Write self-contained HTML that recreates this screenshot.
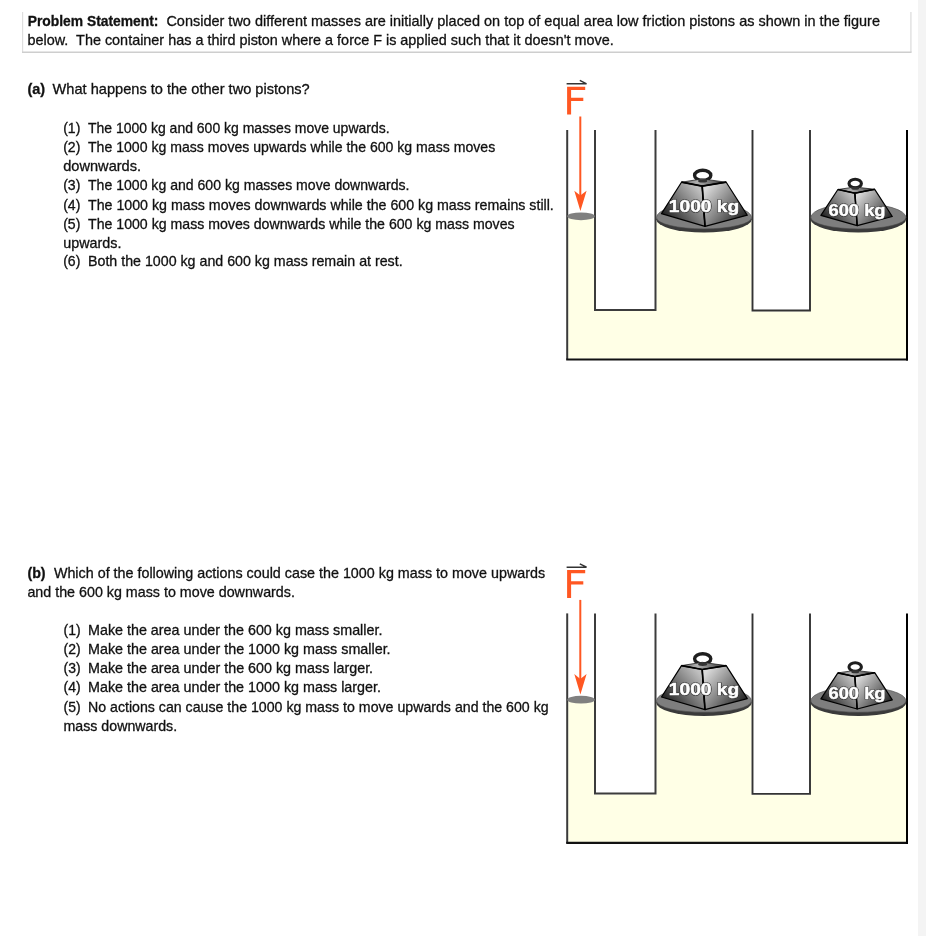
<!DOCTYPE html>
<html><head><meta charset="utf-8"><style>
html,body{margin:0;padding:0;background:#fff;}
body{width:926px;height:936px;overflow:hidden;position:relative;}
svg{position:absolute;left:0;top:0;will-change:transform;}
.t text{font-family:"Liberation Sans",sans-serif;font-size:14.4px;fill:#111;stroke:#111;stroke-width:0.3px;white-space:pre;}
</style></head><body>
<svg width="926" height="936" viewBox="0 0 926 936">
<rect x="918" y="0" width="8" height="936" fill="#f4f4f4"/>
<line x1="22.6" y1="12" x2="22.6" y2="52" stroke="#dedede" stroke-width="1.2"/>
<line x1="910.9" y1="12" x2="910.9" y2="52" stroke="#e2e2e2" stroke-width="1.5"/>
<line x1="22" y1="52.3" x2="911.6" y2="52.3" stroke="#cecece" stroke-width="1.4"/>
<g class="t">
<text x="27.70" y="25.60" textLength="130.80" lengthAdjust="spacingAndGlyphs" font-weight="bold">Problem Statement:</text>
<text x="166.40" y="25.60" textLength="713.60" lengthAdjust="spacingAndGlyphs">Consider two different masses are initially placed on top of equal area low friction pistons as shown in the figure</text>
<text x="27.50" y="44.60" textLength="586.20" lengthAdjust="spacingAndGlyphs">below.  The container has a third piston where a force F is applied such that it doesn&#39;t move.</text>
<text x="27.50" y="93.70" textLength="17.70" lengthAdjust="spacingAndGlyphs" font-weight="bold">(a)</text>
<text x="52.60" y="93.70" textLength="257.10" lengthAdjust="spacingAndGlyphs">What happens to the other two pistons?</text>
<text x="63.20" y="132.90" textLength="17.20" lengthAdjust="spacingAndGlyphs">(1)</text>
<text x="88.00" y="132.90" textLength="301.60" lengthAdjust="spacingAndGlyphs">The 1000 kg and 600 kg masses move upwards.</text>
<text x="63.20" y="151.80" textLength="17.20" lengthAdjust="spacingAndGlyphs">(2)</text>
<text x="88.00" y="151.80" textLength="407.20" lengthAdjust="spacingAndGlyphs">The 1000 kg mass moves upwards while the 600 kg mass moves</text>
<text x="63.20" y="170.60" textLength="77.90" lengthAdjust="spacingAndGlyphs">downwards.</text>
<text x="63.20" y="189.70" textLength="17.20" lengthAdjust="spacingAndGlyphs">(3)</text>
<text x="88.00" y="189.70" textLength="321.50" lengthAdjust="spacingAndGlyphs">The 1000 kg and 600 kg masses move downwards.</text>
<text x="63.20" y="209.50" textLength="17.20" lengthAdjust="spacingAndGlyphs">(4)</text>
<text x="88.00" y="209.50" textLength="465.80" lengthAdjust="spacingAndGlyphs">The 1000 kg mass moves downwards while the 600 kg mass remains still.</text>
<text x="63.20" y="228.70" textLength="17.20" lengthAdjust="spacingAndGlyphs">(5)</text>
<text x="88.00" y="228.70" textLength="426.60" lengthAdjust="spacingAndGlyphs">The 1000 kg mass moves downwards while the 600 kg mass moves</text>
<text x="63.20" y="247.50" textLength="58.20" lengthAdjust="spacingAndGlyphs">upwards.</text>
<text x="63.20" y="266.30" textLength="17.20" lengthAdjust="spacingAndGlyphs">(6)</text>
<text x="88.00" y="266.30" textLength="314.60" lengthAdjust="spacingAndGlyphs">Both the 1000 kg and 600 kg mass remain at rest.</text>
<text x="27.40" y="578.30" textLength="18.20" lengthAdjust="spacingAndGlyphs" font-weight="bold">(b)</text>
<text x="53.90" y="578.30" textLength="491.20" lengthAdjust="spacingAndGlyphs">Which of the following actions could case the 1000 kg mass to move upwards</text>
<text x="27.40" y="596.50" textLength="267.50" lengthAdjust="spacingAndGlyphs">and the 600 kg mass to move downwards.</text>
<text x="63.50" y="635.40" textLength="17.10" lengthAdjust="spacingAndGlyphs">(1)</text>
<text x="88.00" y="635.40" textLength="294.40" lengthAdjust="spacingAndGlyphs">Make the area under the 600 kg mass smaller.</text>
<text x="63.50" y="654.20" textLength="17.10" lengthAdjust="spacingAndGlyphs">(2)</text>
<text x="88.00" y="654.20" textLength="302.60" lengthAdjust="spacingAndGlyphs">Make the area under the 1000 kg mass smaller.</text>
<text x="63.50" y="673.10" textLength="17.10" lengthAdjust="spacingAndGlyphs">(3)</text>
<text x="88.00" y="673.10" textLength="285.10" lengthAdjust="spacingAndGlyphs">Make the area under the 600 kg mass larger.</text>
<text x="63.50" y="692.30" textLength="17.10" lengthAdjust="spacingAndGlyphs">(4)</text>
<text x="88.00" y="692.30" textLength="293.00" lengthAdjust="spacingAndGlyphs">Make the area under the 1000 kg mass larger.</text>
<text x="63.50" y="711.90" textLength="17.10" lengthAdjust="spacingAndGlyphs">(5)</text>
<text x="88.00" y="711.90" textLength="460.60" lengthAdjust="spacingAndGlyphs">No actions can cause the 1000 kg mass to move upwards and the 600 kg</text>
<text x="63.50" y="730.80" textLength="113.60" lengthAdjust="spacingAndGlyphs">mass downwards.</text>
</g>
<defs>
<linearGradient id="gl" x1="0.05" y1="0.95" x2="0.9" y2="0.2">
<stop offset="0" stop-color="#0a0a0a"/><stop offset="0.5" stop-color="#6a6a6a"/><stop offset="1" stop-color="#c0c0c0"/>
</linearGradient>
<linearGradient id="gr" x1="0.05" y1="0.2" x2="1" y2="0.95">
<stop offset="0" stop-color="#dadada"/><stop offset="0.5" stop-color="#777"/><stop offset="1" stop-color="#0a0a0a"/>
</linearGradient>
<linearGradient id="gt" x1="0" y1="0" x2="1" y2="0">
<stop offset="0" stop-color="#666"/><stop offset="0.35" stop-color="#b0b0b0"/><stop offset="1" stop-color="#333"/>
</linearGradient>
<g id="fig">
<path d="M568.2,216.3 H594 V311 H656.5 V219 H751.5 V311.5 H809 V218 H906 V358.5 H568.2 Z" fill="#ffffe6"/>
<path d="M567.2,130 V359.5" stroke="#3a3a3a" stroke-width="2" fill="none"/>
<path d="M566.2,359.5 H908" stroke="#111" stroke-width="2.2" fill="none"/>
<path d="M907,130 V360.5" stroke="#000" stroke-width="2" fill="none"/>
<path d="M595,130 V310 H655.5 V130" stroke="#3c3c3c" stroke-width="2" fill="none"/>
<path d="M752.5,130 V310.5 H810 V130" stroke="#333" stroke-width="1.9" fill="none"/>
<ellipse cx="581" cy="216.3" rx="13.8" ry="3.9" fill="#808080"/>
<path d="M567.1,86.7 H585.2 V89.9 H571.1 V97.8 H583.3 V101 H571.1 V114.5 H567.1 Z" fill="#ff5722"/>
<path d="M566.6,83.8 H586.6 M579.8,80.4 L586.6,83.8" stroke="#333" stroke-width="1.5" fill="none"/>
<line x1="580.3" y1="116.5" x2="580.3" y2="196" stroke="#ff5722" stroke-width="2"/>
<path d="M574.3,190.7 L580.3,195.5 L586.6,190.7 L580.4,211 Z" fill="#ff5722"/>
<!-- 1000 kg -->
<ellipse cx="704" cy="219.3" rx="47.8" ry="13.2" fill="#3a3a3a"/>
<path d="M656.4,217.5 A47.6,14 0 0 1 751.6,217.5 A47.6,11.4 0 0 1 656.4,217.5 Z" fill="#7e7e7e" stroke="#4a4a4a" stroke-width="0.6"/>
<ellipse cx="702.7" cy="175.4" rx="8.1" ry="5.1" fill="none" stroke="#1e1e1e" stroke-width="3.4"/>
<path d="M681.5,182.2 L702.2,178.9 L726.2,182.2 L702.2,186.1 Z" fill="url(#gt)" stroke="#222" stroke-width="0.8" stroke-linejoin="round"/>
<ellipse cx="702.7" cy="180.9" rx="4.6" ry="1.7" fill="#333"/>
<path d="M681.5,182.2 L702.2,186.1 L705,226.3 L661.5,213.6 Z" fill="url(#gl)" stroke="#000" stroke-width="1.2" stroke-linejoin="round"/>
<path d="M702.2,186.1 L726.2,182.2 L747.3,215.2 L705,226.3 Z" fill="url(#gr)" stroke="#000" stroke-width="1.2" stroke-linejoin="round"/>
<path d="M681.5,182.2 L702.2,186.1 L726.2,182.2 M702.2,186.1 L705,226.3" stroke="#000" stroke-width="1.7" fill="none" stroke-linejoin="miter"/>
<text x="668.8" y="211.8" textLength="70.4" lengthAdjust="spacingAndGlyphs" font-family="Liberation Sans" font-weight="bold" font-size="16" fill="#2a2a2a" stroke="#2a2a2a" stroke-width="1.6" stroke-linejoin="round" style="white-space:pre">1000 kg</text>
<text x="668.8" y="211.8" textLength="70.4" lengthAdjust="spacingAndGlyphs" font-family="Liberation Sans" font-weight="bold" font-size="16" fill="#fff" stroke="#fff" stroke-width="0.5" stroke-linejoin="round" style="white-space:pre">1000 kg</text>
<!-- 600 kg -->
<ellipse cx="858.4" cy="219.3" rx="47.8" ry="13.2" fill="#3a3a3a"/>
<path d="M810.8,217.5 A47.6,14 0 0 1 906.0,217.5 A47.6,11.4 0 0 1 810.8,217.5 Z" fill="#7e7e7e" stroke="#4a4a4a" stroke-width="0.6"/>
<ellipse cx="855.2" cy="183.6" rx="6.2" ry="4.3" fill="none" stroke="#1e1e1e" stroke-width="3.1"/>
<path d="M837.9,189.5 L854.9,187 L874.7,189.3 L854.9,193.2 Z" fill="url(#gt)" stroke="#222" stroke-width="0.8" stroke-linejoin="round"/>
<ellipse cx="855.2" cy="188.3" rx="4" ry="1.5" fill="#333"/>
<path d="M837.9,189.5 L854.9,193.2 L857.2,225.6 L820.9,215.4 Z" fill="url(#gl)" stroke="#000" stroke-width="1.2" stroke-linejoin="round"/>
<path d="M854.9,193.2 L874.7,189.3 L892.3,216.5 L857.2,225.6 Z" fill="url(#gr)" stroke="#000" stroke-width="1.2" stroke-linejoin="round"/>
<path d="M837.9,189.5 L854.9,193.2 L874.7,189.3 M854.9,193.2 L857.2,225.6" stroke="#000" stroke-width="1.5" fill="none" stroke-linejoin="miter"/>
<text x="828.5" y="215.5" textLength="57" lengthAdjust="spacingAndGlyphs" font-family="Liberation Sans" font-weight="bold" font-size="16" fill="#2a2a2a" stroke="#2a2a2a" stroke-width="1.6" stroke-linejoin="round" style="white-space:pre">600 kg</text>
<text x="828.5" y="215.5" textLength="57" lengthAdjust="spacingAndGlyphs" font-family="Liberation Sans" font-weight="bold" font-size="16" fill="#fff" stroke="#fff" stroke-width="0.5" stroke-linejoin="round" style="white-space:pre">600 kg</text>
</g>
</defs>
<use href="#fig"/>
<use href="#fig" transform="translate(0,483.4)"/>

</svg>
</body></html>
